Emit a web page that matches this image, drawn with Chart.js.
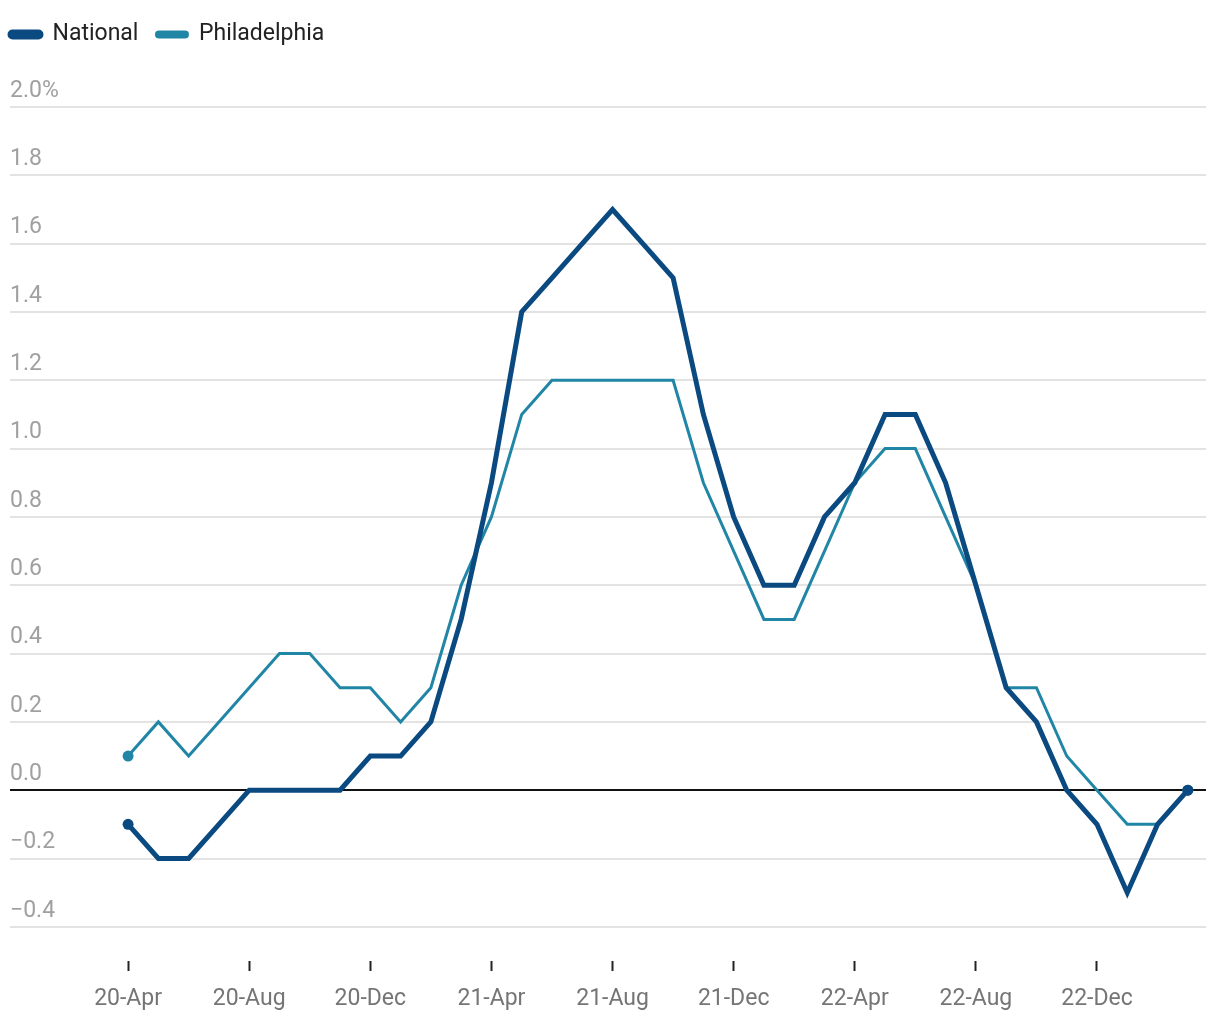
<!DOCTYPE html>
<html>
<head>
<meta charset="utf-8">
<script src="https://cdn.jsdelivr.net/npm/chart.js@4"></script>
<style>
  html, body { margin: 0; padding: 0; background: #fff; }
  #wrap { width: 1220px; height: 1020px; }
</style>
</head>
<body>
<div id="wrap"><canvas id="c" width="1220" height="1020"></canvas></div>
<script>
const categories = ['20-Apr','20-May','20-Jun','20-Jul','20-Aug','20-Sep','20-Oct','20-Nov','20-Dec',
  '21-Jan','21-Feb','21-Mar','21-Apr','21-May','21-Jun','21-Jul','21-Aug','21-Sep','21-Oct','21-Nov','21-Dec',
  '22-Jan','22-Feb','22-Mar','22-Apr','22-May','22-Jun','22-Jul','22-Aug','22-Sep','22-Oct','22-Nov','22-Dec',
  '23-Jan','23-Feb','23-Mar'];
const national = [-0.1,-0.2,-0.2,-0.1,0.0,0.0,0.0,0.0,0.1,
  0.1,0.2,0.5,0.9,1.4,1.5,1.6,1.7,1.6,1.5,1.1,0.8,
  0.6,0.6,0.8,0.9,1.1,1.1,0.9,0.6,0.3,0.2,0.0,-0.1,
  -0.3,-0.1,0.0];
const philadelphia = [0.1,0.2,0.1,0.2,0.3,0.4,0.4,0.3,0.3,
  0.2,0.3,0.6,0.8,1.1,1.2,1.2,1.2,1.2,1.2,0.9,0.7,
  0.5,0.5,0.7,0.9,1.0,1.0,0.8,0.6,0.3,0.3,0.1,0.0,
  -0.1,-0.1,0.0];
const yTicks = [-0.4,-0.2,0.0,0.2,0.4,0.6,0.8,1.0,1.2,1.4,1.6,1.8,2.0];
const xTickLabels = ['20-Apr','20-Aug','20-Dec','21-Apr','21-Aug','21-Dec','22-Apr','22-Aug','22-Dec'];

const FONT = 'Roboto';
const toPts = arr => arr.map((v, i) => ({x: i, y: v}));
const endRadius = (arr, r) => arr.map((v, i) => (i === 0 || i === arr.length - 1) ? r : 0);

const legendPlugin = {
  id: 'legendTweak',
  beforeInit(chart) {
    const fit = chart.legend.fit;
    chart.legend.fit = function () {
      fit.bind(chart.legend)();
      this.height = 102;
    };
  },
  afterLayout(chart) {
    chart.legend.left = -8;
  }
};

new Chart(document.getElementById('c'), {
  type: 'line',
  data: {
    datasets: [
      {
        label: 'National',
        data: toPts(national),
        borderColor: '#0a4a80',
        backgroundColor: '#0a4a80',
        borderWidth: 5,
        pointRadius: endRadius(national, 5.5),
        pointBorderWidth: 0,
        pointHoverRadius: 0,
        tension: 0,
        borderJoinStyle: 'miter',
        fill: false
      },
      {
        label: 'Philadelphia',
        data: toPts(philadelphia),
        borderColor: '#2186a5',
        backgroundColor: '#2186a5',
        borderWidth: 3,
        pointRadius: endRadius(philadelphia, 5.5),
        pointBorderWidth: 0,
        pointHoverRadius: 0,
        tension: 0,
        borderJoinStyle: 'miter',
        fill: false
      }
    ]
  },
  options: {
    responsive: false,
    animation: false,
    devicePixelRatio: 1,
    layout: { padding: { top: 5, left: 10, right: 14, bottom: 0 } },
    plugins: {
      legend: {
        display: true,
        position: 'top',
        align: 'start',
        labels: {
          boxWidth: 31,
          boxHeight: 5,
          useBorderRadius: true,
          borderRadius: 2.5,
          padding: 18,
          color: '#222',
          font: { family: FONT, size: 23 }
        }
      },
      tooltip: { enabled: false }
    },
    scales: {
      x: {
        type: 'linear',
        min: -3.9,
        max: 35.6,
        border: { display: false },
        grid: {
          display: true,
          drawOnChartArea: false,
          drawTicks: true,
          tickLength: 10,
          tickWidth: 2,
          tickColor: '#222'
        },
        afterBuildTicks(scale) {
          scale.ticks = xTickLabels.map(l => ({ value: categories.indexOf(l) }));
        },
        afterFit(scale) {
          scale.height = 59;
        },
        ticks: {
          autoSkip: false,
          maxRotation: 0,
          padding: 14,
          color: '#757575',
          font: { family: FONT, size: 23 },
          callback: (v) => categories[v]
        }
      },
      y: {
        min: -0.5,
        max: 2.0,
        border: { display: false },
        afterBuildTicks(scale) {
          scale.ticks = yTicks.map(v => ({ value: v }));
        },
        grid: {
          drawTicks: false,
          color: (ctx) => ctx.tick && ctx.tick.value === 0 ? '#111' : '#e3e3e3',
          lineWidth: 2
        },
        ticks: {
          mirror: true,
          padding: 0,
          labelOffset: -16,
          color: '#a0a0a0',
          font: { family: FONT, size: 23 },
          callback: (v) => {
            if (v === 2) return '2.0%';
            const s = Math.abs(v).toFixed(1);
            return v < 0 ? '\u2212' + s : s;
          }
        }
      }
    }
  },
  plugins: [legendPlugin]
});
</script>
</body>
</html>
